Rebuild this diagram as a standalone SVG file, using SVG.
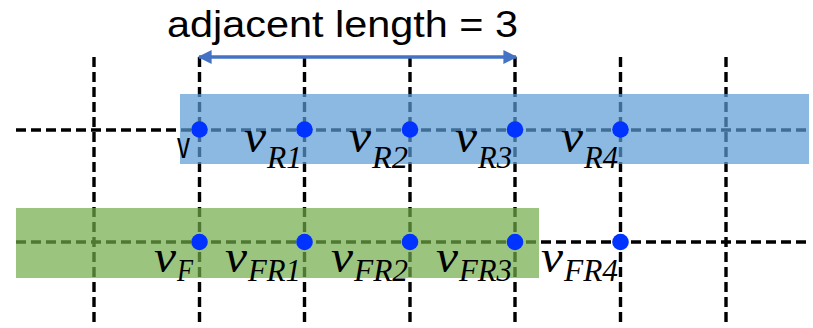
<svg xmlns="http://www.w3.org/2000/svg" width="813" height="328" viewBox="0 0 813 328">
  <style>
    .grid { stroke: #000; stroke-width: 3.4; stroke-dasharray: 10 5; fill: none; }
    .dot { fill: #0033ff; }
    .mv { font-family: "Liberation Serif", serif; font-style: italic; fill: #000; }
    .main { font-size: 46px; }
    .sub { font-size: 32px; }
    .title { font-family: "Liberation Sans", Arial, sans-serif; font-size: 37px; fill: #000; }
  </style>
  <defs>
    <marker id="ah" viewBox="0 0 10 10" refX="9" refY="5" markerWidth="5" markerHeight="4" markerUnits="strokeWidth" orient="auto-start-reverse">
      <path d="M0,0 L10,5 L0,10 Z" fill="#4472c4"/>
    </marker>
  </defs>
  <rect width="813" height="328" fill="#fff"/>

  <!-- dashed lattice -->
  <g id="lattice" class="grid">
    <line x1="94" y1="57" x2="94" y2="323"/>
    <line x1="199.5" y1="57" x2="199.5" y2="323"/>
    <line x1="304.5" y1="57" x2="304.5" y2="323"/>
    <line x1="410" y1="57" x2="410" y2="323"/>
    <line x1="515" y1="57" x2="515" y2="323"/>
    <line x1="620.5" y1="57" x2="620.5" y2="323"/>
    <line x1="726" y1="57" x2="726" y2="323"/>
    <line x1="16" y1="130" x2="808" y2="130"/>
    <line x1="16" y1="242" x2="808" y2="242"/>
  </g>

  <!-- highlighted row bands -->
  <g id="bandR">
    <rect x="180" y="94" width="629" height="70" fill="#5b9bd5" fill-opacity="0.7"/>
  </g>
  <g id="bandFR">
    <rect x="16" y="208" width="523" height="70" fill="#70ad47" fill-opacity="0.7"/>
  </g>

  <!-- span arrow -->
  <g id="connectors">
    <line x1="199" y1="57" x2="516" y2="57" stroke="#4472c4" stroke-width="3.5" marker-start="url(#ah)" marker-end="url(#ah)"/>
  </g>

  <g id="title">
    <text class="title" x="167" y="37" textLength="351" lengthAdjust="spacingAndGlyphs">adjacent length = 3</text>
  </g>

  <!-- top row vertices -->
  <g id="v"><circle class="dot" cx="199.5" cy="129.5" r="8.3"/>
    <text class="title" x="177" y="158" font-size="39" textLength="13" lengthAdjust="spacingAndGlyphs">v</text></g>
  <g id="vR1"><circle class="dot" cx="304.5" cy="129.5" r="8.3"/>
    <text class="mv"><tspan class="main" x="244" y="152" textLength="22" lengthAdjust="spacingAndGlyphs">v</tspan><tspan class="sub" x="267" y="168" textLength="35" lengthAdjust="spacingAndGlyphs">R1</tspan></text></g>
  <g id="vR2"><circle class="dot" cx="410" cy="129.5" r="8.3"/>
    <text class="mv"><tspan class="main" x="349" y="152" textLength="22" lengthAdjust="spacingAndGlyphs">v</tspan><tspan class="sub" x="372" y="168" textLength="36" lengthAdjust="spacingAndGlyphs">R2</tspan></text></g>
  <g id="vR3"><circle class="dot" cx="515" cy="129.5" r="8.3"/>
    <text class="mv"><tspan class="main" x="455" y="152" textLength="22" lengthAdjust="spacingAndGlyphs">v</tspan><tspan class="sub" x="478" y="168" textLength="34" lengthAdjust="spacingAndGlyphs">R3</tspan></text></g>
  <g id="vR4"><circle class="dot" cx="620.5" cy="129.5" r="8.3"/>
    <text class="mv"><tspan class="main" x="561" y="152" textLength="22" lengthAdjust="spacingAndGlyphs">v</tspan><tspan class="sub" x="584" y="168" textLength="34" lengthAdjust="spacingAndGlyphs">R4</tspan></text></g>

  <!-- bottom row vertices -->
  <g id="vF"><circle class="dot" cx="199.5" cy="242" r="8.3"/>
    <text class="mv"><tspan class="main" x="154" y="272" textLength="22" lengthAdjust="spacingAndGlyphs">v</tspan><tspan class="sub" x="177" y="281" textLength="16" lengthAdjust="spacingAndGlyphs">F</tspan></text></g>
  <g id="vFR1"><circle class="dot" cx="304.5" cy="242" r="8.3"/>
    <text class="mv"><tspan class="main" x="225" y="272" textLength="22" lengthAdjust="spacingAndGlyphs">v</tspan><tspan class="sub" x="248" y="281" textLength="53" lengthAdjust="spacingAndGlyphs">FR1</tspan></text></g>
  <g id="vFR2"><circle class="dot" cx="410" cy="242" r="8.3"/>
    <text class="mv"><tspan class="main" x="331" y="272" textLength="22" lengthAdjust="spacingAndGlyphs">v</tspan><tspan class="sub" x="354" y="281" textLength="54" lengthAdjust="spacingAndGlyphs">FR2</tspan></text></g>
  <g id="vFR3"><circle class="dot" cx="515" cy="242" r="8.3"/>
    <text class="mv"><tspan class="main" x="436" y="272" textLength="22" lengthAdjust="spacingAndGlyphs">v</tspan><tspan class="sub" x="459" y="281" textLength="53" lengthAdjust="spacingAndGlyphs">FR3</tspan></text></g>
  <g id="vFR4"><circle class="dot" cx="620.5" cy="242" r="8.3"/>
    <text class="mv"><tspan class="main" x="541" y="272" textLength="22" lengthAdjust="spacingAndGlyphs">v</tspan><tspan class="sub" x="564" y="281" textLength="54" lengthAdjust="spacingAndGlyphs">FR4</tspan></text></g>
</svg>
